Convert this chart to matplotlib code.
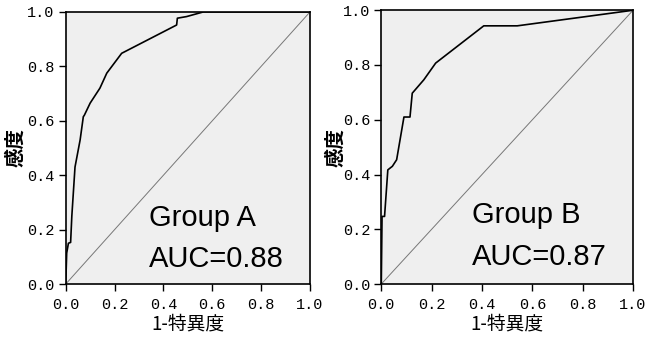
import matplotlib
matplotlib.use("Agg")
import matplotlib.pyplot as plt

plt.rcParams['font.family'] = ['Noto Sans CJK JP', 'DejaVu Sans']

# ROC curve points (1-specificity, sensitivity)
fpr_a = [0.0, 0.004, 0.011, 0.02, 0.025, 0.038, 0.059, 0.072, 0.076, 0.10, 0.14,
         0.168, 0.229, 0.454, 0.457, 0.495, 0.563, 1.0]
tpr_a = [0.0, 0.114, 0.15, 0.153, 0.25, 0.43, 0.53, 0.615, 0.62, 0.665, 0.72,
         0.775, 0.848, 0.952, 0.977, 0.983, 1.0, 1.0]

fpr_b = [0.0, 0.003, 0.013, 0.026, 0.044, 0.061, 0.09, 0.114, 0.123, 0.169,
         0.216, 0.407, 0.54, 1.0]
tpr_b = [0.0, 0.247, 0.247, 0.417, 0.43, 0.454, 0.61, 0.61, 0.697, 0.746,
         0.807, 0.943, 0.943, 1.0]

groups = ["Group A", "Group B"]
aucs = [0.88, 0.87]
ticks = [0.0, 0.2, 0.4, 0.6, 0.8, 1.0]
tick_labels = ["0.0", "0.2", "0.4", "0.6", "0.8", "1.0"]

fig = plt.figure(figsize=(6.54, 3.41), dpi=100)
ax_a = fig.add_axes([0.1005, 0.167, 0.3735, 0.798])
ax_b = fig.add_axes([0.583, 0.167, 0.385, 0.803])

curves = [(fpr_a, tpr_a), (fpr_b, tpr_b)]
text_x = [0.34, 0.36]
text_y = [(0.213, 0.063), (0.223, 0.07)]
ylabel_x = [-0.205, -0.18]

for i, ax in enumerate([ax_a, ax_b]):
    ax.set_facecolor("#efefef")
    fx, ty = curves[i]
    ax.plot([0, 1], [0, 1], color="#777777", lw=0.7)
    ax.plot(fx, ty, color="black", lw=1.2)
    ax.set_xlim(0, 1)
    ax.set_ylim(0, 1)
    ax.set_xticks(ticks)
    ax.set_yticks(ticks)
    ax.set_xticklabels(tick_labels, family="Liberation Mono", fontsize=11)
    ax.set_yticklabels(tick_labels, family="Liberation Mono", fontsize=11)
    ax.tick_params(axis="x", direction="out", length=5, width=1, pad=5)
    ax.tick_params(axis="y", direction="out", length=5, width=1, pad=3)
    for s in ax.spines.values():
        s.set_linewidth(1.2)
    ax.set_xlabel("1-特異度", fontsize=13.5, va="center")
    ax.set_ylabel("感度", fontsize=14, fontweight="bold", va="center")
    ax.xaxis.set_label_coords(0.5, -0.147)
    ax.yaxis.set_label_coords(ylabel_x[i], 0.5)
    ax.text(text_x[i], text_y[i][0], groups[i], fontsize=21,
            family="Liberation Sans", transform=ax.transData)
    ax.text(text_x[i], text_y[i][1], f"AUC={aucs[i]:.2f}", fontsize=21,
            family="Liberation Sans", transform=ax.transData)

fig.savefig("out.png", dpi=100, facecolor="white")
